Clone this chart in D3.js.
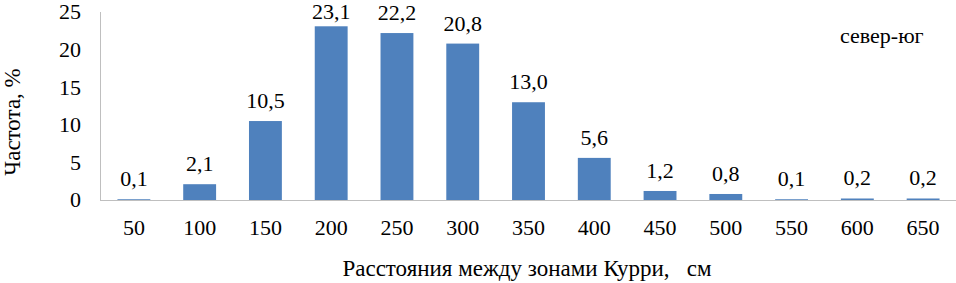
<!DOCTYPE html>
<html><head><meta charset="utf-8">
<script src="https://cdn.jsdelivr.net/npm/d3@7/dist/d3.min.js"></script>
</head><body style="margin:0">
<script>
const categories = ["50","100","150","200","250","300","350","400","450","500","550","600","650"];
const values = [0.1,2.1,10.5,23.1,22.2,20.8,13.0,5.6,1.2,0.8,0.1,0.2,0.2];
const yTicks = [0,5,10,15,20,25];
const yTitle = "Частота, %";
const xTitle = "Расстояния между зонами Курри,   см";
const seriesName = "север-юг";

const W=956,H=283;
const svg=d3.select("body").append("svg").attr("width",W).attr("height",H).style("display","block");
const x=d3.scaleBand().domain(categories).range([101,956]).paddingInner(0.5).paddingOuter(0.25);
const y=d3.scaleLinear().domain([0,25]).range([200,12]);
const fs=22;
function T(sel,s){return sel.style("font-family","'Liberation Serif'").attr("font-size",s||fs).attr("fill","#000");}

svg.append("line").attr("x1",100.5).attr("x2",100.5).attr("y1",12).attr("y2",200).attr("stroke","#bfbfbf");
svg.append("line").attr("x1",100).attr("x2",W).attr("y1",200.5).attr("y2",200.5).attr("stroke","#bfbfbf");

T(svg.selectAll(".yt").data(yTicks).enter().append("text")
 .attr("x",81).attr("y",d=>y(d)).attr("dy","0.34em").attr("text-anchor","end").text(d=>d));

svg.selectAll(".bar").data(values).enter().append("rect")
 .attr("x",(d,i)=>x(categories[i])).attr("width",x.bandwidth())
 .attr("y",d=>y(d)).attr("height",d=>200-y(d)).attr("fill","#4f81bd");

T(svg.selectAll(".lbl").data(values).enter().append("text")
 .attr("x",(d,i)=>x(categories[i])+x.bandwidth()/2).attr("y",d=>Math.max(y(d)-13,19))
 .attr("text-anchor","middle").text(d=>d.toFixed(1).replace(".",",")));

T(svg.selectAll(".xt").data(categories).enter().append("text")
 .attr("x",d=>x(d)+x.bandwidth()/2).attr("y",235).attr("text-anchor","middle").text(d=>d));

T(svg.append("text").attr("x",527).attr("y",276).attr("text-anchor","middle").style("white-space","pre").text(xTitle),23);
T(svg.append("text").attr("transform","translate(20,122) rotate(-90)").attr("text-anchor","middle").text(yTitle),23);
T(svg.append("text").attr("x",840).attr("y",43).text(seriesName));
</script>
</body></html>
